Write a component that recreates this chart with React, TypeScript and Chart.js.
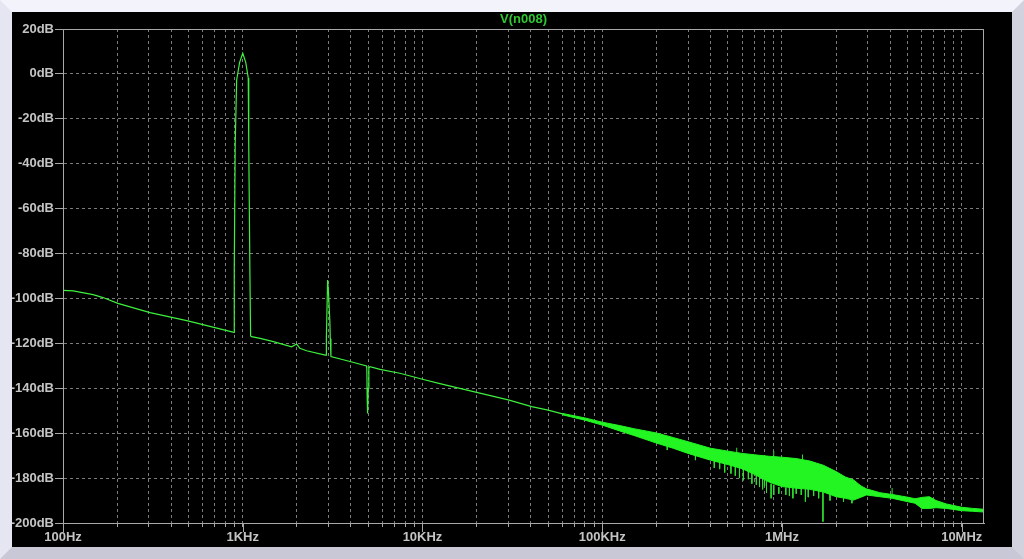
import React, { useEffect, useRef } from 'react';
import { Chart, registerables } from 'chart.js';

Chart.register(...registerables);

// ---- data ----
const seriesName = 'V(n008)';

const traceFreq = [
  100, 114, 147, 167, 202, 305, 495, 882, 895, 897, 908, 925, 960, 1000, 1040, 1073, 1080, 1096, 1106,
  1120, 1250, 1480, 1870, 1994, 2080, 2265, 2880, 2910, 2920, 2966, 3000, 3050, 3070, 3094,
  4000, 4880, 4900, 4925, 4950, 4990, 5030, 5100, 5800, 7480, 10000, 12500, 20000, 30000, 40500,
  50000, 60000,
];
const traceDb = [
  -96.4, -96.6, -98.3, -99.6, -102.2, -106.3, -110, -115, -115.1, -86.5, -30.8, -2.7, 5, 9.2, 5, -1.8, -31.7, -88.7, -116.7,
  -117, -117.8, -119.2, -121.5, -120.3, -122.2, -123.3, -125.2, -125.3, -117, -91.8, -97.6, -109.6, -118, -125.9,
  -128.2, -130.1, -131, -145, -151.2, -140, -131, -130.4, -131.6, -133.3, -136, -137.9, -141.8, -145.2, -148.2,
  -149.7, -151.4,
];

const bandFreq = [
  60000, 80000, 100000, 125000, 150000, 200000, 250000, 300000, 400000, 500000, 600000, 700000, 850000,
  1000000, 1200000, 1430000, 1700000, 2000000, 2250000, 2500000, 2750000, 2950000, 3500000, 4100000,
  5000000, 5500000, 6000000, 6600000, 7200000, 8200000, 10000000, 11500000, 13300000,
];
const bandUpperDb = [
  -151.2, -153.2, -155.1, -156.6, -158, -159.9, -162, -163.8, -166.7, -168, -169, -169.6, -170.3,
  -170.7, -171.3, -172.4, -174.3, -177.1, -179.5, -180.8, -183.5, -184.8, -186.5, -187.3,
  -188.5, -189.2, -188.6, -188.3, -190, -191.5, -193, -193.5, -193.9,
];
const bandLowerDb = [
  -151.8, -154.2, -156.4, -159, -161, -164.4, -166.8, -169, -172, -174, -175.8, -178.3, -181.8,
  -183.8, -184.5, -185, -186.2, -188.3, -189, -189.8, -188.5, -187.5, -188.3, -189,
  -190.5, -191.2, -193.5, -193.5, -193.2, -193.5, -194.5, -194.8, -195.1,
];

const spikeFreq = [
  230000, 330000, 420000, 450000, 480000, 520000, 550000, 580000, 610000, 650000, 680000, 720000,
  750000, 780000, 800000, 820000, 870000, 900000, 960000, 1050000, 1100000, 1150000, 1200000,
  1280000, 1350000, 1400000, 1500000, 1600000, 1690000, 1850000, 2200000, 2450000,
  560000, 900000, 1300000, 4100000,
];
const spikeFromDb = [
  -165.5, -169.5, -172, -173, -173.5, -174, -174.5, -175, -175.6, -176.5, -177, -178.5,
  -179.5, -180, -181, -181, -182.5, -183, -184, -184.2, -184.2, -184.4, -184.5,
  -184.6, -184.7, -184.8, -185, -185.6, -186, -187, -189, -189.7,
  -168.5, -170.4, -171.8, -187.3,
];
const spikeToDb = [
  -167.5, -172, -175.5, -176, -177.5, -178, -179, -180, -181, -180.5, -182.5, -183,
  -184, -185, -183.5, -186.6, -189, -187.5, -187, -187.5, -188, -189, -187,
  -187.5, -190.5, -188.5, -188, -189, -199.4, -190, -190.5, -191.2,
  -166.5, -168, -169.5, -184.4,
];

const xMin = 100;
const xMax = 13300000;
const xTickValues = [100, 1000, 10000, 100000, 1000000, 10000000];
const xTickLabels = ['100Hz', '1KHz', '10KHz', '100KHz', '1MHz', '10MHz'];
const yTickValues = [20, 0, -20, -40, -60, -80, -100, -120, -140, -160, -180, -200];
const yTickLabels = ['20dB', '0dB', '-20dB', '-40dB', '-60dB', '-80dB', '-100dB', '-120dB', '-140dB', '-160dB', '-180dB', '-200dB'];

const FONT = '"Liberation Sans", Arial, sans-serif';
const LINE_GREEN = '#3df03d';
const BAND_GREEN = '#22f522';
const GRID = '#7c7c7c';
const FRAME = '#a8a8a8';
const LABEL = '#c4c4c4';

export default function App() {
  const ref = useRef<HTMLCanvasElement | null>(null);

  useEffect(() => {
    const canvas = ref.current;
    if (!canvas) return;

    const trace = traceFreq.map((f, i) => ({ x: f, y: traceDb[i] }));
    const upper = bandFreq.map((f, i) => ({ x: f, y: bandUpperDb[i] }));
    const lower = bandFreq.map((f, i) => ({ x: f, y: bandLowerDb[i] }));
    const spikes: { x: number; y: number | null }[] = [];
    spikeFreq.forEach((f, i) => {
      spikes.push({ x: f, y: spikeFromDb[i] });
      spikes.push({ x: f, y: spikeToDb[i] });
      spikes.push({ x: f, y: null });
    });

    const gridValues: number[] = [];
    xTickValues.forEach((d) => {
      for (let k = 1; k <= 9; k++) {
        const v = d * k;
        if (v <= xMax) gridValues.push(v);
      }
    });

    const labelFor = (v: number) => {
      const i = xTickValues.findIndex((t) => Math.abs(t - v) / t < 1e-6);
      return i >= 0 ? xTickLabels[i] : '';
    };

    const framePlugin = {
      id: 'ltspiceFrame',
      afterDraw(chart: any) {
        const { ctx, chartArea } = chart;
        const { left, top, right, bottom } = chartArea;
        ctx.save();
        ctx.strokeStyle = FRAME;
        ctx.lineWidth = 1;
        ctx.setLineDash([]);
        ctx.strokeRect(Math.round(left) + 0.5, Math.round(top) + 0.5, Math.round(right - left) - 1, Math.round(bottom - top));
        const xs = chart.scales.x;
        xTickValues.forEach((v) => {
          const px = Math.round(xs.getPixelForValue(v)) + 0.5;
          ctx.beginPath();
          ctx.moveTo(px, bottom);
          ctx.lineTo(px, bottom + 9);
          ctx.stroke();
        });
        ctx.fillStyle = '#30c830';
        ctx.font = 'bold 13px ' + FONT;
        ctx.textAlign = 'center';
        ctx.textBaseline = 'middle';
        ctx.fillText(seriesName, (left + right) / 2, 7);
        ctx.restore();
      },
    };

    const chart = new Chart(canvas, {
      type: 'line',
      data: {
        datasets: [
          {
            data: trace,
            borderColor: LINE_GREEN,
            borderWidth: 1.2,
            pointRadius: 0,
            tension: 0,
            fill: false,
          },
          {
            data: upper,
            borderColor: BAND_GREEN,
            borderWidth: 1,
            pointRadius: 0,
            tension: 0,
            fill: false,
          },
          {
            data: lower,
            borderColor: BAND_GREEN,
            backgroundColor: BAND_GREEN,
            borderWidth: 1,
            pointRadius: 0,
            tension: 0,
            fill: '-1',
          },
          {
            data: spikes as any,
            borderColor: '#2ee02e',
            borderWidth: 1,
            pointRadius: 0,
            tension: 0,
            fill: false,
            spanGaps: false,
          },
        ],
      },
      options: {
        responsive: false,
        animation: false,
        events: [],
        layout: { padding: { left: 0, top: 17, right: 28, bottom: 0 } },
        plugins: {
          legend: { display: false },
          title: { display: false },
          tooltip: { enabled: false },
        },
        scales: {
          x: {
            type: 'logarithmic',
            min: xMin,
            max: xMax,
            afterBuildTicks: (scale: any) => {
              scale.ticks = gridValues.map((v) => ({ value: v }));
            },
            afterFit: (scale: any) => {
              scale.height = 24;
            },
            ticks: {
              autoSkip: false,
              maxRotation: 0,
              minRotation: 0,
              padding: 3,
              color: LABEL,
              font: { family: FONT, size: 13, weight: 'bold' },
              callback: (v: any) => labelFor(Number(v)),
            },
            grid: {
              color: GRID,
              lineWidth: 1,
              drawTicks: true,
              tickLength: 4,
              tickColor: FRAME,
            },
            border: { display: true, color: FRAME, width: 1, dash: [3, 3] },
          },
          y: {
            type: 'linear',
            min: -200,
            max: 20,
            afterBuildTicks: (scale: any) => {
              scale.ticks = yTickValues.map((v) => ({ value: v }));
            },
            afterFit: (scale: any) => {
              scale.width = 51;
            },
            ticks: {
              padding: 1,
              color: LABEL,
              font: { family: FONT, size: 13, weight: 'bold' },
              callback: (v: any) => {
                const i = yTickValues.indexOf(Number(v));
                return i >= 0 ? yTickLabels[i] : '';
              },
            },
            grid: {
              color: GRID,
              lineWidth: 1,
              drawTicks: true,
              tickLength: 8,
              tickColor: FRAME,
            },
            border: { display: true, color: FRAME, width: 1, dash: [3, 3] },
          },
        },
      },
      plugins: [framePlugin],
    } as any);

    return () => chart.destroy();
  }, []);

  return (
    <div
      style={{
        position: 'fixed',
        left: 0,
        top: 0,
        width: 1024,
        height: 559,
        boxSizing: 'border-box',
        borderStyle: 'solid',
        borderWidth: 12,
        borderTopColor: '#f3f3fb',
        borderLeftColor: '#e6e6f2',
        borderRightColor: '#d2d2de',
        borderBottomColor: '#c8c8d6',
        background: '#000',
      }}
    >
      <canvas ref={ref} width={1000} height={535} style={{ display: 'block', width: 1000, height: 535 }} />
    </div>
  );
}
